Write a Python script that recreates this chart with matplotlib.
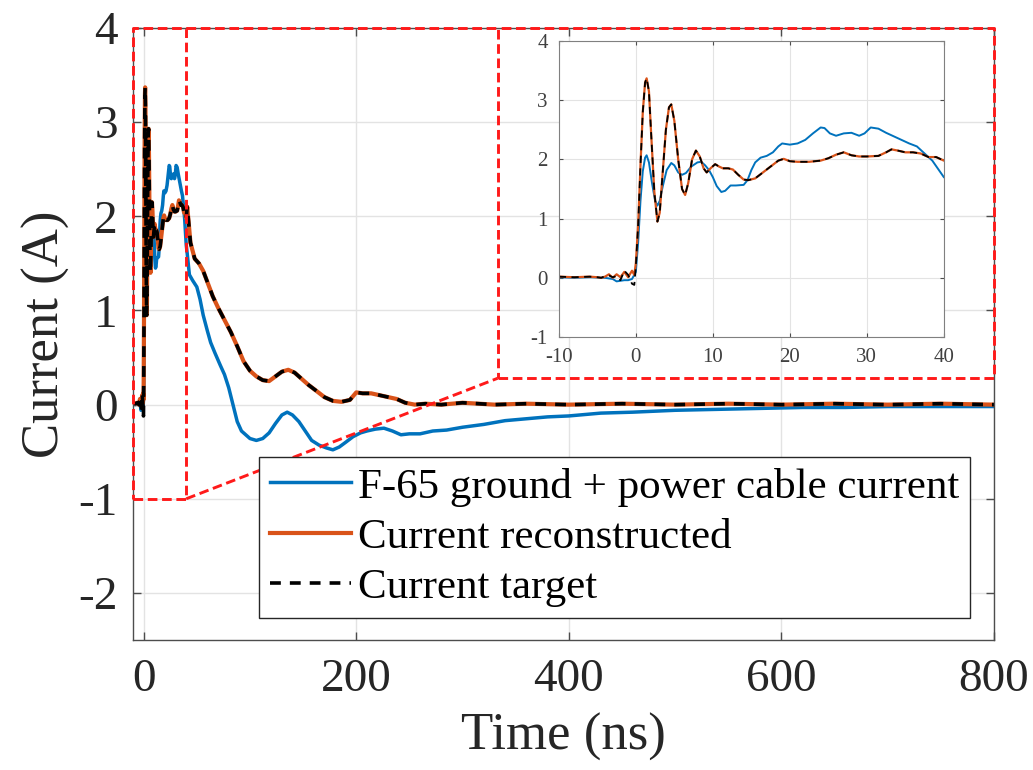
import matplotlib.pyplot as plt
import numpy as np

plt.rcParams['font.family'] = ['Liberation Serif', 'DejaVu Serif']
plt.rcParams['axes.unicode_minus'] = False

# F-65 ground + power cable current
t_f65 = [-10, -8, -6, -4, -3, -2.5, -2, -1.5, -1, -0.5, 0, 0.3, 0.6, 0.9, 1.2, 1.4, 1.7, 2.1, 2.5, 2.8,
         3.1, 3.5, 4.0, 4.6, 5.0, 5.5, 6.0, 6.5, 7.2, 8.0, 8.5, 9.0, 9.5, 10.0, 10.5, 11.1, 11.6, 12.3,
         13.0, 14.0, 14.5, 15.0, 15.5, 16.2, 17.0, 17.8, 18.5, 19.0, 20.0, 21.0, 22.0, 23.0, 24.0, 24.5,
         25.2, 26.0, 27.0, 28.0, 29.0, 29.7, 30.5, 31.5, 32.5, 33.5, 34.5, 35.5, 36.5, 37.5, 38.5, 39.2,
         40, 41, 43, 46, 50, 53, 56, 60, 63, 67, 72, 76, 80, 84, 88, 92, 96, 100, 106, 112, 118, 124,
         130, 135, 140, 146, 152, 158, 165, 172, 178, 184, 190, 197, 204, 210, 218, 226, 234, 242, 250,
         260, 272, 285, 300, 320, 340, 360, 380, 400, 430, 460, 500, 540, 580, 620, 660, 700, 750, 800]
i_f65 = [0.01, 0.0, 0.01, 0.0, -0.02, -0.06, -0.05, -0.04, -0.04, -0.02, 0.1, 0.6, 1.3, 1.8, 2.03, 2.07,
         1.95, 1.6, 1.3, 1.22, 1.3, 1.55, 1.82, 1.94, 1.9, 1.78, 1.74, 1.77, 1.88, 1.95, 1.96, 1.9, 1.82,
         1.7, 1.55, 1.45, 1.47, 1.56, 1.56, 1.57, 1.65, 1.82, 1.95, 2.03, 2.06, 2.12, 2.22, 2.27, 2.25,
         2.27, 2.33, 2.44, 2.54, 2.53, 2.44, 2.4, 2.44, 2.45, 2.4, 2.44, 2.54, 2.52, 2.45, 2.39, 2.33,
         2.27, 2.22, 2.1, 1.98, 1.85, 1.7, 1.6, 1.38, 1.32, 1.25, 1.12, 0.95, 0.78, 0.66, 0.55, 0.42,
         0.32, 0.18, 0.0, -0.18, -0.28, -0.32, -0.36, -0.38, -0.36, -0.3, -0.2, -0.11, -0.08, -0.11,
         -0.18, -0.28, -0.38, -0.43, -0.46, -0.48, -0.45, -0.4, -0.34, -0.3, -0.28, -0.26, -0.25, -0.28,
         -0.32, -0.31, -0.31, -0.28, -0.27, -0.24, -0.21, -0.17, -0.15, -0.13, -0.12, -0.09, -0.08,
         -0.06, -0.05, -0.04, -0.03, -0.03, -0.02, -0.02, -0.02]

# reconstructed and target current share one time base
t_rec = [-10, -8, -6, -5, -4.5, -4, -3.5, -3, -2.5, -2, -1.5, -1, -0.5, -0.2, 0, 0.3, 0.6, 0.9, 1.2, 1.4,
         1.7, 2.0, 2.4, 2.8, 3.1, 3.5, 3.9, 4.3, 4.6, 5.0, 5.5, 6.0, 6.4, 6.8, 7.3, 7.8, 8.3, 8.8, 9.2,
         9.7, 10.3, 10.8, 11.3, 12.0, 12.6, 13.3, 14.0, 14.6, 15.5, 16.5, 17.5, 18.5, 19.2, 20, 21, 22.5,
         24, 25, 26, 27, 28, 29, 30, 31.5, 32.5, 33.2, 34, 35, 36, 37, 38, 39, 40, 41, 44, 48, 52, 56,
         60, 65, 70, 76, 82, 88, 94, 100, 106, 112, 118, 124, 130, 136, 142, 148, 155, 162, 170, 178,
         186, 194, 200, 206, 214, 222, 230, 238, 246, 255, 265, 280, 300, 330, 360, 400, 450, 500, 550,
         600, 650, 700, 750, 800]
i_rec = [0.02, 0.01, 0.02, 0.01, 0.0, 0.02, 0.06, 0.0, 0.06, 0.01, 0.1, 0.01, 0.12, 0.05, 0.25, 0.9,
         1.9, 2.8, 3.3, 3.37, 3.15, 2.4, 1.45, 0.95, 1.1, 1.8, 2.5, 2.88, 2.93, 2.65, 2.0, 1.5, 1.4,
         1.6, 2.0, 2.15, 2.05, 1.85, 1.78, 1.85, 1.92, 1.88, 1.85, 1.85, 1.83, 1.74, 1.66, 1.65, 1.68,
         1.78, 1.88, 1.98, 2.01, 1.97, 1.96, 1.96, 1.98, 2.02, 2.08, 2.12, 2.07, 2.05, 2.05, 2.06, 2.12,
         2.17, 2.15, 2.12, 2.12, 2.1, 2.04, 2.04, 1.98, 2.1, 1.72, 1.55, 1.5, 1.42, 1.3, 1.15, 1.03,
         0.9, 0.77, 0.62, 0.46, 0.36, 0.3, 0.26, 0.25, 0.3, 0.35, 0.37, 0.34, 0.28, 0.21, 0.15, 0.08,
         0.04, 0.03, 0.05, 0.13, 0.12, 0.12, 0.1, 0.08, 0.06, 0.02, 0.0, 0.01, 0.0, 0.02, 0.0, 0.01,
         0.0, 0.01, 0.0, 0.01, 0.0, 0.01, 0.0, 0.01, 0.0]
i_tgt = [0.02, 0.01, 0.02, 0.01, 0.0, 0.03, 0.04, 0.01, 0.03, -0.04, 0.12, 0.05, -0.1, -0.12, 0.2, 0.9,
         1.9, 2.8, 3.3, 3.37, 3.15, 2.4, 1.45, 0.95, 1.1, 1.8, 2.5, 2.88, 2.93, 2.65, 2.0, 1.5, 1.4,
         1.6, 2.0, 2.15, 2.05, 1.85, 1.78, 1.85, 1.92, 1.88, 1.85, 1.85, 1.83, 1.74, 1.66, 1.65, 1.68,
         1.78, 1.88, 1.98, 2.01, 1.97, 1.96, 1.96, 1.98, 2.02, 2.08, 2.12, 2.07, 2.05, 2.05, 2.06, 2.12,
         2.17, 2.15, 2.12, 2.12, 2.1, 2.04, 2.04, 1.98, 2.1, 1.72, 1.55, 1.5, 1.42, 1.3, 1.15, 1.03,
         0.9, 0.77, 0.62, 0.46, 0.36, 0.3, 0.26, 0.25, 0.3, 0.35, 0.37, 0.34, 0.28, 0.21, 0.15, 0.08,
         0.04, 0.03, 0.05, 0.13, 0.12, 0.12, 0.1, 0.08, 0.06, 0.02, 0.0, 0.01, 0.0, 0.02, 0.0, 0.01,
         0.0, 0.01, 0.0, 0.01, 0.0, 0.01, 0.0, 0.01, 0.0]

labels = ['F-65 ground + power cable current', 'Current reconstructed', 'Current target']

blue = '#0072BD'
orange = '#D95319'
red = '#FF1A1A'
edge = '#4d4d4d'

fig = plt.figure(figsize=(10.33, 7.7), dpi=100)
ax = fig.add_axes([0.1288, 0.1688, 0.8335, 0.7948])

ax.plot(t_f65, i_f65, color=blue, lw=2.5, label=labels[0])
ax.plot(t_rec, i_rec, color=orange, lw=3.0, label=labels[1])
ax.plot(t_rec, i_tgt, color='k', lw=2.6, ls=(0, (3, 2.5)), label=labels[2])

ax.set_xlim(-10, 800)
ax.set_ylim(-2.5, 4)
ax.set_xticks([0, 200, 400, 600, 800])
ax.set_yticks([-2, -1, 0, 1, 2, 3, 4])
ax.grid(True, color='#e3e3e3', lw=1)
ax.set_axisbelow(True)
ax.tick_params(direction='in', length=6, width=1, top=True, right=True, colors=edge,
               labelsize=34, labelcolor='#262626')
ax.tick_params(axis='x', pad=13)
ax.tick_params(axis='y', pad=11)
for s in ax.spines.values():
    s.set_color(edge)
    s.set_linewidth(1)
ax.set_xlabel('Time (ns)', fontsize=38, color='#262626', labelpad=9)
ax.set_ylabel('Current (A)', fontsize=38, color='#262626', labelpad=6)

# zoom boxes and connectors
rk = dict(color=red, lw=2.1, ls=(0, (3.3, 1.6)), clip_on=False, zorder=5)
ax.plot([-10, 40, 40, -10, -10], [-1, -1, 4, 4, -1], **rk)
ax.plot([333, 800, 800, 333, 333], [0.28, 0.28, 4, 4, 0.28], **rk)
ax.plot([40, 333], [-1, 0.28], **rk)
ax.plot([40, 333], [4, 4], **rk)

leg = ax.legend(loc='lower right', bbox_to_anchor=(0.972, 0.036), fontsize=31, fancybox=False,
                framealpha=1, edgecolor='#262626', handlelength=1.9, handletextpad=0.15,
                borderpad=0.25, labelspacing=0.26, borderaxespad=0)
leg.get_frame().set_linewidth(1)
leg.set_zorder(10)

# inset
axi = fig.add_axes([0.541, 0.5623, 0.3727, 0.3844])
axi.plot(t_f65, i_f65, color=blue, lw=1.4)
axi.plot(t_rec, i_rec, color=orange, lw=1.6)
axi.plot(t_rec, i_tgt, color='k', lw=1.3, ls=(0, (4, 3)))
axi.set_xlim(-10, 40)
axi.set_ylim(-1, 4)
axi.set_xticks([-10, 0, 10, 20, 30, 40])
axi.set_yticks([-1, 0, 1, 2, 3, 4])
axi.grid(True, color='#e3e3e3', lw=0.8)
axi.set_axisbelow(True)
axi.tick_params(direction='in', length=3, width=0.8, top=True, right=True, colors=edge,
                labelsize=15, labelcolor='#404040')
axi.tick_params(axis='x', pad=8)
axi.tick_params(axis='y', pad=8)
for s in axi.spines.values():
    s.set_color('#808080')
    s.set_linewidth(0.8)

fig.savefig('out.png', dpi=100)
